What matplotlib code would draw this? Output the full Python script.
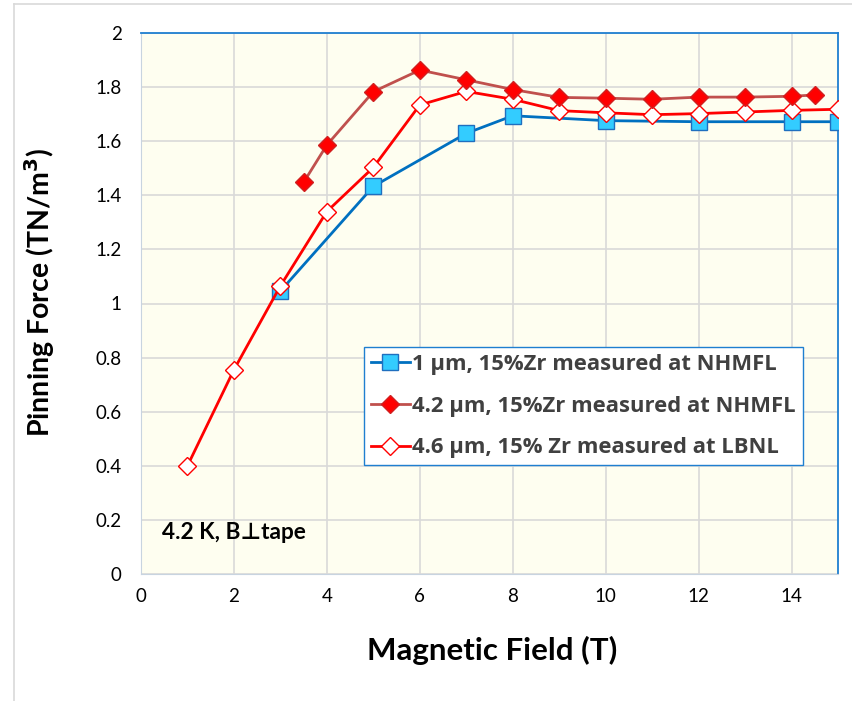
import matplotlib
matplotlib.use('Agg')
import matplotlib.pyplot as plt
from matplotlib.lines import Line2D

plt.rcParams['font.family'] = ['Lato', 'DejaVu Sans']

# Pinning force vs field for three tapes
b_1um = [3, 5, 7, 8, 10, 12, 14, 15]
fp_1um = [1.046, 1.433, 1.629, 1.694, 1.676, 1.672, 1.672, 1.672]

b_42um = [3.5, 4, 5, 6, 7, 8, 9, 10, 11, 12, 13, 14, 14.5]
fp_42um = [1.448, 1.586, 1.783, 1.863, 1.827, 1.791, 1.762, 1.759, 1.755, 1.763, 1.763, 1.766, 1.771]

b_46um = [1, 2, 3, 4, 5, 6, 7, 8, 9, 10, 11, 12, 13, 14, 15]
fp_46um = [0.40, 0.755, 1.065, 1.34, 1.503, 1.734, 1.784, 1.755, 1.713, 1.705, 1.698, 1.702, 1.708, 1.714, 1.718]

labels = ['1 \u00b5m, 15%Zr measured at NHMFL',
          '4.2 \u00b5m, 15%Zr measured at NHMFL',
          '4.6 \u00b5m, 15% Zr measured at LBNL']

xticks = [0, 2, 4, 6, 8, 10, 12, 14]
yticks = [0, 0.2, 0.4, 0.6, 0.8, 1, 1.2, 1.4, 1.6, 1.8, 2]

fig = plt.figure(figsize=(8.52, 7.01), dpi=100)
ax = fig.add_axes([141 / 852, 1 - 574 / 701, 697 / 852, 541 / 701])
ax.set_facecolor('#FEFEF0')

h1, = ax.plot(b_1um, fp_1um, color='#0070C0', lw=2.0, marker='s', ms=11,
              mfc='#33CCFF', mec='#1F6FBF', mew=1.0, label=labels[0], zorder=3)
h3, = ax.plot(b_46um, fp_46um, color='#FF0000', lw=2.0, marker='D', ms=9,
              mfc='white', mec='#FF0000', mew=1.0, label=labels[2], zorder=4)
h2, = ax.plot(b_42um, fp_42um, color='#C0504D', lw=2.0, marker='D', ms=9.5,
              mfc='#FF0000', mec='#D02020', mew=1.0, label=labels[1], zorder=5)

ax.set_xlim(0, 15)
ax.set_ylim(0, 2)
ax.set_xticks(xticks)
ax.set_yticks(yticks)
ax.set_xticklabels([str(t) for t in xticks])
ax.set_yticklabels(['0', '0.2', '0.4', '0.6', '0.8', '1', '1.2', '1.4', '1.6', '1.8', '2'])
ax.tick_params(length=0, labelsize=13.5, pad=10, colors='#000000')
ax.tick_params(axis='y', pad=14)
ax.grid(True, color='#D9D9D9', lw=1.2)
ax.set_axisbelow(True)

for side in ['top', 'right']:
    ax.spines[side].set_color('#1F7FD0')
    ax.spines[side].set_linewidth(1.3)
ax.spines['left'].set_color('#C8D4E0')
ax.spines['bottom'].set_color('#C8D4E0')

ax.set_xlabel('Magnetic Field (T)', fontsize=22.5, fontweight='bold')
ax.xaxis.set_label_coords(0.504, -0.114)
ax.set_ylabel('Pinning Force (TN/m$^\\mathbf{3}$)', fontsize=20.5, fontweight='bold')
ax.yaxis.set_label_coords(-0.1205, 0.521)

ax.text(0.030, 0.0776, '4.2 K, B\u22a5tape', fontsize=16.3, fontweight='bold',
        va='center', ha='left', transform=ax.transAxes)

leg = ax.legend(handles=[h1, h2, h3], loc='lower left', bbox_to_anchor=(0.32, 0.2015),
                borderaxespad=0, fancybox=False, framealpha=1,
                prop={'family': ['Open Sans', 'DejaVu Sans'], 'weight': 'bold', 'size': 15.8},
                edgecolor='#1F7FD0', handlelength=1.8, handletextpad=0.1,
                labelspacing=0.95, borderpad=0.3)
leg.get_frame().set_linewidth(1.0)
for t in leg.get_texts():
    t.set_color('#404040')

# thin outer frame on the left and top edges
fig.add_artist(Line2D([14 / 852, 14 / 852], [0, 1 - 4 / 701], transform=fig.transFigure,
                      color='#D9D9D9', lw=1.2))
fig.add_artist(Line2D([14 / 852, 1], [1 - 4 / 701, 1 - 4 / 701], transform=fig.transFigure,
                      color='#D9D9D9', lw=1.2))

fig.savefig('out.png', dpi=100)
